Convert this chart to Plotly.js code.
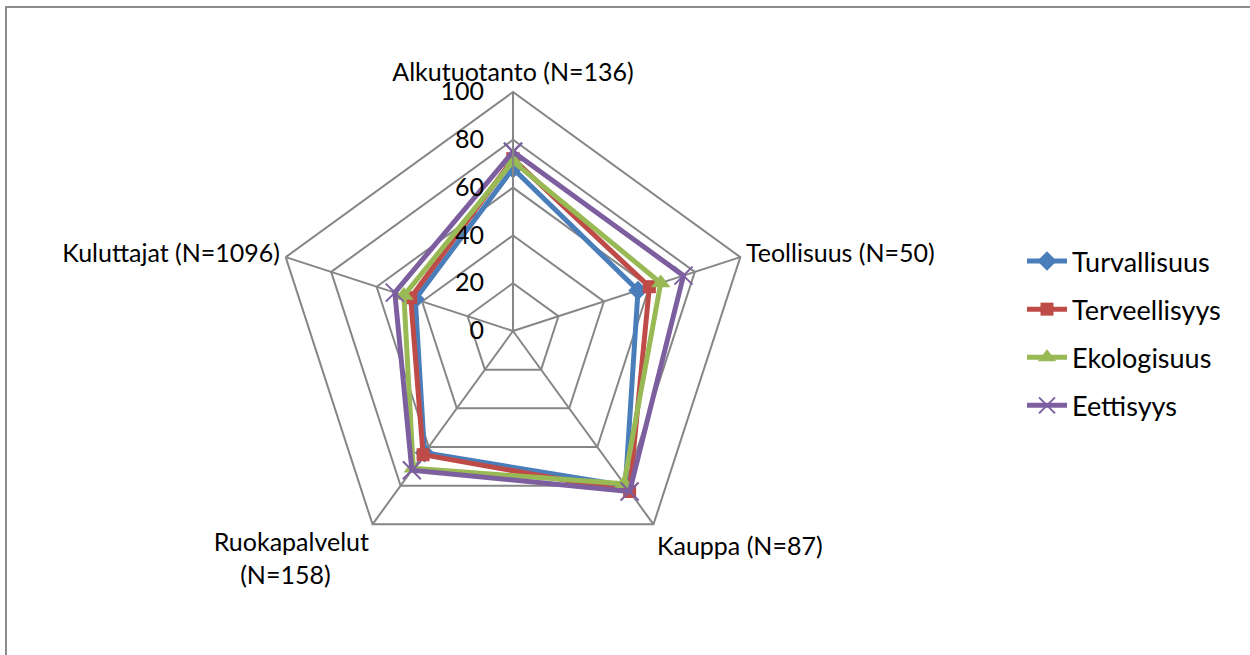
<!DOCTYPE html>
<html>
<head>
<meta charset="utf-8">
<script src="https://cdn.plot.ly/plotly-3.0.1.min.js"></script>
<style>html,body{margin:0;padding:0;background:#fff;}#chart{width:1250px;height:655px;}</style>
</head>
<body>
<div id="chart"></div>
<script>
const categories = ["Alkutuotanto (N=136)", "Teollisuus (N=50)", "Kauppa (N=87)", "Ruokapalvelut<br>(N=158)\u00a0\u00a0\u00a0\u00a0\u00a0\u00a0", "Kuluttajat (N=1096)"];
const turvallisuus = [68, 55, 80, 63, 43];
const terveellisyys = [72, 60, 83, 64, 45];
const ekologisuus = [71, 65, 79, 71, 48];
const eettisyys = [75, 75, 83, 72, 52];
const seriesNames = ["Turvallisuus", "Terveellisyys", "Ekologisuus", "Eettisyys"];
const radialTicks = [0, 20, 40, 60, 80, 100];

const seriesData = [turvallisuus, terveellisyys, ekologisuus, eettisyys];
const colors = ["#4a7ebb", "#be4b48", "#98b954", "#7d5fa0"];
const symbols = ["diamond", "square", "triangle-up", "x-thin"];
const msize = [15, 13, 17, 18];

const traces = seriesData.map((vals, i) => ({
  type: "scatterpolar",
  r: vals.concat([vals[0]]),
  theta: categories.concat([categories[0]]),
  name: seriesNames[i],
  legendgroup: "g" + i,
  mode: "lines+markers",
  line: {color: colors[i], width: 5},
  marker: {symbol: symbols[i], size: msize[i], color: colors[i],
           line: {color: colors[i], width: symbols[i] === "x-thin" ? 2 : 0}}
}));

const cx = 513, cy = 331, R = 239, W = 1250, H = 655;
const layout = {
  width: W, height: H,
  margin: {l: 0, r: 0, t: 0, b: 0},
  paper_bgcolor: "#fff",
  font: {family: "Lato, 'Open Sans', sans-serif", size: 25, color: "#000"},
  showlegend: true,
  legend: {x: 1022 / W, y: 1 - 237 / H, xanchor: "left", yanchor: "top",
           font: {size: 27, color: "#000"}, tracegroupgap: 10, itemwidth: 40},
  polar: {
    domain: {x: [(cx - R) / W, (cx + R) / W], y: [(H - cy - R) / H, (H - cy + R) / H]},
    gridshape: "linear",
    bgcolor: "rgba(0,0,0,0)",
    angularaxis: {
      rotation: 90, direction: "clockwise",
      categoryorder: "array", categoryarray: categories,
      linecolor: "#868686", linewidth: 2, gridcolor: "#868686", gridwidth: 2,
      showline: true, ticks: "", tickfont: {size: 25, color: "#000"}
    },
    radialaxis: {
      range: [0, 100], tickvals: radialTicks,
      ticktext: radialTicks.map(v => String(v) + "\u00a0\u00a0\u00a0"),
      angle: 90, side: "counterclockwise", tickangle: 90,
      showline: true, linecolor: "#868686", linewidth: 2,
      gridcolor: "#868686", gridwidth: 2, ticks: "",
      tickfont: {size: 25, color: "#000"}
    }
  },
  shapes: [{type: "rect", xref: "paper", yref: "paper",
            x0: 6 / W, x1: 1.02, y0: -0.02, y1: 1 - 7 / H,
            line: {color: "#8c8c8c", width: 2}, fillcolor: "rgba(0,0,0,0)"}]
};

Plotly.newPlot("chart", traces, layout, {displayModeBar: false});
</script>
</body>
</html>
